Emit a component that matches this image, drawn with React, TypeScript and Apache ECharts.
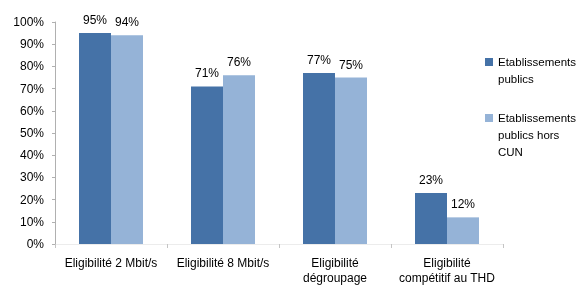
import React, { useEffect, useRef } from "react";
import * as echarts from "echarts";

const categories = [
  "Eligibilité 2 Mbit/s",
  "Eligibilité 8 Mbit/s",
  "Eligibilité\ndégroupage",
  "Eligibilité\ncompétitif au THD",
];
const seriesNames = ["Etablissements publics", "Etablissements publics hors CUN"];
const legendLabels = ["\nEtablissements\npublics", "\n\nEtablissements\npublics hors\nCUN"];
const publicsValues = [95, 71, 77, 23];
const horsCunValues = [94, 76, 75, 12];
const yTicks = [0, 10, 20, 30, 40, 50, 60, 70, 80, 90, 100];

const DARK = "#4572A7";
const LIGHT = "#95B3D7";
const FONT = "Liberation Sans";

export default function App() {
  const ref = useRef<HTMLDivElement>(null);
  useEffect(() => {
    if (!ref.current) return;
    const chart = echarts.init(ref.current, null, { renderer: "svg" });
    const labelCfg = {
      show: true,
      position: "top" as const,
      distance: 7,
      formatter: (p: any) => p.value + "%",
      color: "#000",
      fontFamily: FONT,
      fontSize: 12,
    };
    const legendBase = {
      orient: "vertical" as const,
      left: 485,
      itemWidth: 8,
      itemHeight: 8,
      itemGap: 0,
      padding: 0,
      icon: "rect",
    };
    const legendText = {
      fontFamily: FONT,
      fontSize: 11.5,
      color: "#000",
      lineHeight: 17,
    };
    chart.setOption({
      animation: false,
      textStyle: { fontFamily: FONT },
      grid: { left: 55, right: 82, top: 22, bottom: 39.5, containLabel: false },
      legend: [
        {
          ...legendBase,
          data: [seriesNames[0]],
          top: 62 - 25.5,
          formatter: () => legendLabels[0],
          textStyle: legendText,
        },
        {
          ...legendBase,
          data: [seriesNames[1]],
          top: 118 - 42.5,
          formatter: () => legendLabels[1],
          textStyle: legendText,
        },
      ],
      xAxis: {
        type: "category",
        data: categories,
        axisLine: { show: true, lineStyle: { color: "#ececec" } },
        axisTick: { show: true, length: 4, lineStyle: { color: "#c4c4c4" } },
        axisLabel: {
          color: "#000",
          fontFamily: FONT,
          fontSize: 12,
          margin: 11,
          lineHeight: 15,
          interval: 0,
        },
      },
      yAxis: {
        type: "value",
        min: 0,
        max: 100,
        interval: 10,
        axisLine: { show: true, lineStyle: { color: "#b0b0b0" } },
        axisTick: { show: true, length: 3, lineStyle: { color: "#b0b0b0" } },
        splitLine: { show: false },
        axisLabel: {
          color: "#000",
          fontFamily: FONT,
          fontSize: 12,
          margin: 11,
          formatter: (v: number) => (yTicks.includes(v) ? v + "%" : ""),
        },
      },
      series: [
        {
          name: seriesNames[0],
          type: "bar",
          data: publicsValues,
          barWidth: 32,
          barGap: "0%",
          itemStyle: { color: DARK },
          label: labelCfg,
        },
        {
          name: seriesNames[1],
          type: "bar",
          data: horsCunValues,
          barWidth: 32,
          barGap: "0%",
          itemStyle: { color: LIGHT },
          label: labelCfg,
        },
      ],
    });
    return () => chart.dispose();
  }, []);
  return (
    <div
      ref={ref}
      style={{ position: "fixed", left: 0, top: 0, width: 585, height: 285 }}
    />
  );
}
